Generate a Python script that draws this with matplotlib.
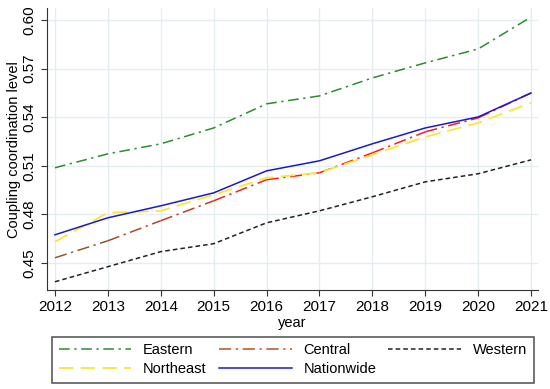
import numpy as np
import matplotlib
matplotlib.use("Agg")
import matplotlib.pyplot as plt
from matplotlib.colors import to_rgb

plt.rcParams['font.family'] = ['Liberation Sans', 'DejaVu Sans']

# donnees
annees = [2012, 2013, 2014, 2015, 2016, 2017, 2018, 2019, 2020, 2021]
eastern = [0.5088, 0.5174, 0.5236, 0.5334, 0.5483, 0.5532, 0.5643, 0.5736, 0.5822, 0.6019]
central = [0.4532, 0.4637, 0.4761, 0.4884, 0.5014, 0.5057, 0.5180, 0.5310, 0.5396, 0.5550]
western = [0.4384, 0.4477, 0.4570, 0.4619, 0.4748, 0.4822, 0.4909, 0.5001, 0.5051, 0.5137]
northeast = [0.4631, 0.4810, 0.4822, 0.4921, 0.5026, 0.5057, 0.5168, 0.5279, 0.5365, 0.5489]
nationwide = [0.4674, 0.4779, 0.4853, 0.4933, 0.5069, 0.5131, 0.5236, 0.5334, 0.5402, 0.5550]
yticks = [0.45, 0.48, 0.51, 0.54, 0.57, 0.60]

fig = plt.figure(figsize=(5.5, 3.89), dpi=100)
ax = fig.add_axes([0.0855, 0.2545, 0.8925, 0.7245])

h_east, = ax.plot(annees, eastern, color="#2e8b2e", lw=1.1, dashes=(7, 3, 1.5, 3), label="Eastern")

# ligne centrale : couleur qui passe du brun au rouge
c0 = np.array(to_rgb("#8b5a2b"))
c1 = np.array(to_rgb("#ff1a1a"))
for i in range(len(annees) - 1):
    t = min(i / 4.0, 1.0)
    ax.plot(annees[i:i + 2], central[i:i + 2], color=c0 * (1 - t) + c1 * t,
            lw=1.1, dashes=(8, 3, 1.5, 3))
h_cent, = ax.plot([], [], color="#b5541c", lw=1.1, dashes=(8, 3, 1.5, 3), label="Central")

h_west, = ax.plot(annees, western, color="#222222", lw=1.1, dashes=(3, 2), label="Western")
h_ne, = ax.plot(annees, northeast, color="#f5e83a", lw=1.3, dashes=(8, 4), label="Northeast")
h_nat, = ax.plot(annees, nationwide, color="#1a1acc", lw=1.1, label="Nationwide")

ax.set_xlim(2011.85, 2021.13)
ax.set_ylim(0.4333, 0.6074)
ax.set_xticks(annees)
ax.set_yticks(yticks)
ax.set_yticklabels(["%.2f" % v for v in yticks], rotation=90, va="center")
ax.tick_params(labelsize=11, direction="out", length=4, width=0.8, color="#333333")
ax.grid(True, color="#e4eef0", lw=1)
ax.set_axisbelow(True)
for s in ["top", "right"]:
    ax.spines[s].set_visible(False)
for s in ["left", "bottom"]:
    ax.spines[s].set_color("#333333")
ax.set_xlabel("year", fontsize=10.5, labelpad=1)
ax.set_ylabel("Coupling coordination level", fontsize=10.5, labelpad=1)

# ordre pour remplir les lignes comme l'original
handles = [h_east, h_ne, h_cent, h_nat, h_west]
leg = fig.legend(handles, [h.get_label() for h in handles],
                 loc="lower left", bbox_to_anchor=(0.0945, 0.0154, 0.876, 0.118),
                 mode="expand", ncol=3, fontsize=10.5, frameon=True, fancybox=False,
                 handlelength=5, borderpad=0.45, labelspacing=0.35, borderaxespad=0)
leg.get_frame().set_edgecolor("#333333")
leg.get_frame().set_linewidth(1.2)

fig.savefig("out.png", dpi=100)
